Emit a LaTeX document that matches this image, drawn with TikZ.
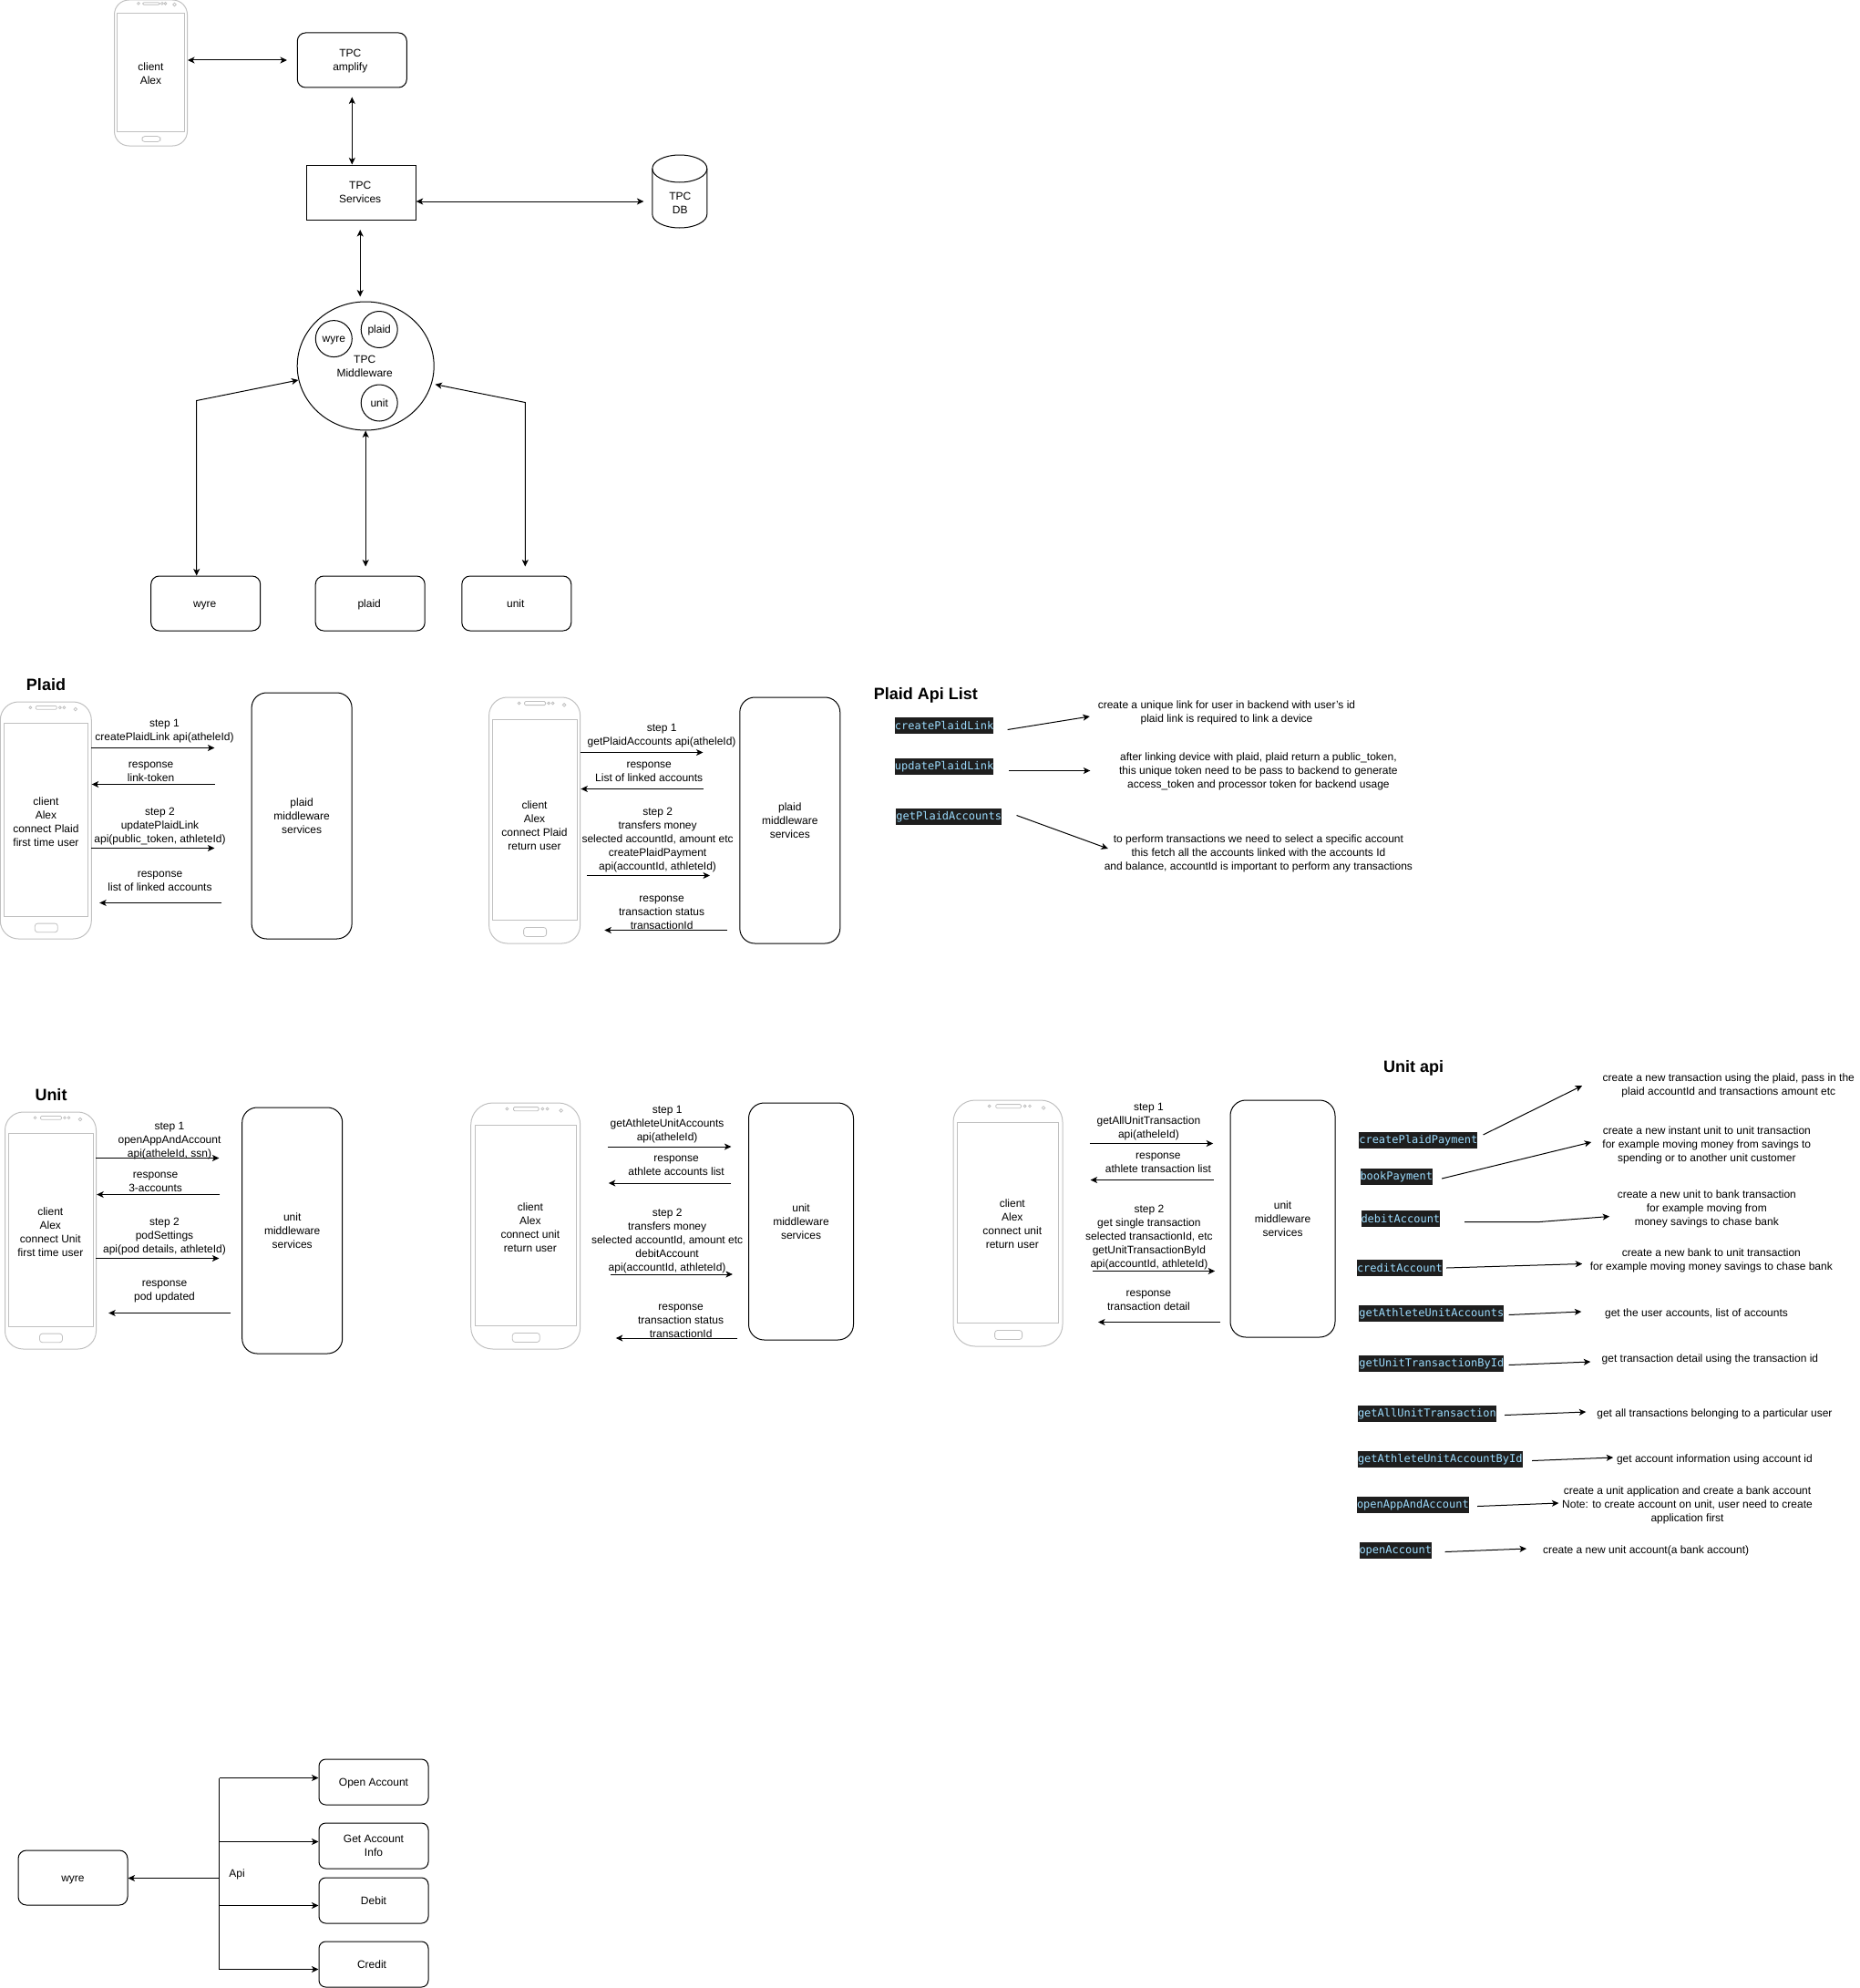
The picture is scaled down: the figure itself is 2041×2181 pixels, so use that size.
\documentclass[tikz,border=0pt]{standalone}
\usepackage{fontspec}
\setmainfont{Liberation Sans}
\newfontfamily\codefont{DejaVu Sans Mono}
\usetikzlibrary{arrows.meta,shapes.geometric}
\definecolor{codebg}{HTML}{1E1E1E}
\definecolor{codefg}{HTML}{9CDCFE}
\definecolor{phonegray}{HTML}{C0C0C0}

% phone outline: name, left, top, width, height
\newcommand{\phonecase}[5]{%
  \node[phonebody,minimum width=#4pt,minimum height=#5pt,rounded corners=#4*0.2pt] (#1) at (#2+#4/2,#3+#5/2) {};
  \begin{scope}[shift={(#2,#3)},x=#4pt,y=-#5pt,phonegray,line width=.8pt]
    \draw (.04,.09) rectangle (.965,.905);
    \draw[rounded corners=1.2pt] (.39,.017) rectangle (.62,.032);
    \draw[rounded corners=3pt] (.38,.935) rectangle (.63,.972);
    \foreach \dotx in {.33,.655,.70} \draw (\dotx,.024) circle [radius=1.4pt];
    \draw (.825,.031) circle [radius=1.8pt];
  \end{scope}}

\begin{document}
\begin{tikzpicture}
  [x=1pt,y=-1pt,line width=1pt,
   txt/.style={align=center,inner sep=0pt,font=\fontsize{12}{15}\selectfont},
   lbl/.style={txt,yshift=-1.2pt},
   one/.style={txt,text height=8.7pt,text depth=0pt},
   heading/.style={inner sep=0pt,font=\fontsize{18}{22}\selectfont\bfseries},
   phonebody/.style={rectangle,draw=phonegray,inner sep=0pt},
   square/.style={txt,rectangle,draw,minimum width=120pt,minimum height=60pt},
   roundbox/.style={square,rounded corners=9pt},
   smallbox/.style={roundbox,minimum height=50pt,rounded corners=7.5pt},
   backend/.style={txt,rectangle,draw,rounded corners=16.5pt},
   bubble/.style={one,circle,draw,minimum size=40pt},
   code/.style={rectangle,fill=codebg,text=codefg,inner xsep=0pt,inner ysep=0pt,
                minimum height=18pt,anchor=west,font=\fontsize{12}{15}\selectfont\codefont},
   arr/.style={-{Stealth[length=7.5pt,width=7pt,inset=2pt]}},
   biarr/.style={{Stealth[length=7.5pt,width=7pt,inset=2pt]}-{Stealth[length=7.5pt,width=7pt,inset=2pt]}}]
  \useasboundingbox (0,0) rectangle (2041,2181);

  % overview
  \phonecase{clientTop}{125.5}{0}{80}{160}
  \node[lbl] (clientTopText) at (165.5,80) {client\\Alex};
  \node[roundbox] (amplify)  at (386.3,66)  {};
  \node[lbl]      (amplifyText) at (384.3,66.3) {TPC\\amplify};
  \node[square]   (services) at (396.2,211) {};
  \node[lbl]      (servicesText) at (395.2,209.5) {TPC\\Services};
  \node[inner sep=0pt,minimum width=60pt,minimum height=80pt] (db) at (746.3,210.5) {};
  \draw (db.north west) ++(0,15) arc [start angle=180,end angle=0,x radius=30pt,y radius=15pt]
        -- ++(0,50) arc [start angle=0,end angle=-180,x radius=30pt,y radius=15pt] -- cycle;
  \draw (db.north west) ++(0,15) arc [start angle=180,end angle=360,x radius=30pt,y radius=15pt];
  \node[lbl] (dbText) at (746.3,222) {TPC\\DB};
  \node[txt,ellipse,draw,minimum width=150pt,minimum height=141pt] (middleware) at (401.2,401.5) {};
  \node[lbl] (middlewareText) at (400.2,400.8) {TPC\\Middleware};
  \node[bubble] (wyreIn)  at (366.3,371.6) {wyre};
  \node[bubble] (plaidIn) at (416.2,361.5) {plaid};
  \node[bubble] (unitIn)  at (416.2,442) {unit};
  \node[roundbox] (wyre)  at (225.7,662) {};
  \node[roundbox] (plaid) at (406.2,662) {};
  \node[roundbox] (unit)  at (566.8,662) {};
  \node[one] (wyreText)  at (224.7,662) {wyre};
  \node[one] (plaidText) at (405.2,662) {plaid};
  \node[one] (unitText)  at (565.8,662) {unit};

  \coordinate (amplifyIn) at (315,66);
  \draw[biarr] (clientTop.east |- amplifyIn) -- (amplifyIn);
  \coordinate (amplifyOut) at (386.3,106.5);
  \draw[biarr] (amplifyOut) -- (amplifyOut |- services.north);
  \coordinate (dbIn) at (706.4,221);
  \draw[biarr] (services.east |- dbIn) -- (dbIn);
  \coordinate (servicesOut) at (395.2,252);
  \coordinate (middlewareIn) at (395.2,325.5);
  \draw[biarr] (servicesOut) -- (middlewareIn);
  \coordinate (wyreKnee) at (215.7,439.5);
  \coordinate (wyreEnd)  at (327.4,417);
  \draw[biarr] (wyreKnee |- wyre.north) -- (wyreKnee) -- (wyreEnd);
  \coordinate (plaidEnd) at (401.2,621.5);
  \draw[biarr] (plaidEnd |- middleware.south) -- (plaidEnd);
  \coordinate (unitEnd)  at (576.3,621.5);
  \coordinate (unitKnee) at (576.3,441.5);
  \coordinate (unitTip)  at (477.5,421.7);
  \draw[biarr] (unitEnd) -- (unitKnee) -- (unitTip);

  % plaid, first time
  \node[heading] (plaidTitle) at (50.5,751) {Plaid};
  \phonecase{clientPlaidA}{0.3}{770}{100}{260}
  \node[lbl] (clientPlaidAText) at (50.5,900.5) {client\\Alex\\connect Plaid\\first time user};
  \node[backend,minimum width=110pt,minimum height=270pt] (plaidA) at (331.1,895) {plaid\\middleware\\services};
  \node[lbl] (pa1) at (180.5,800.5) {step 1\\createPlaidLink api(atheleId)};
  \node[lbl] (pa2) at (165.6,845.5) {response\\link-token};
  \node[lbl] (pa3) at (175.5,905.5) {step 2\\updatePlaidLink\\api(public\_token, athleteId)};
  \node[lbl] (pa4) at (175.5,965.5) {response\\list of linked accounts};
  \coordinate (pa1a) at (100.3,820.5); \coordinate (pa1b) at (235.4,820.5);
  \coordinate (pa2a) at (235.9,860.5); \coordinate (pa2b) at (100.7,860.5);
  \coordinate (pa3a) at (100.3,930.5); \coordinate (pa3b) at (235.4,930.5);
  \coordinate (pa4a) at (243.4,990.5); \coordinate (pa4b) at (109.2,990.5);
  \draw[arr] (pa1a) -- (pa1b);
  \draw[arr] (pa2a) -- (pa2b);
  \draw[arr] (pa3a) -- (pa3b);
  \draw[arr] (pa4a) -- (pa4b);

  % plaid, return user
  \phonecase{clientPlaidB}{536.6}{765}{100}{270}
  \node[lbl] (clientPlaidBText) at (586.5,905) {client\\Alex\\connect Plaid\\return user};
  \node[backend,minimum width=110pt,minimum height=270pt] (plaidB) at (866.8,900) {plaid\\middleware\\services};
  \node[lbl] (pb1) at (726.1,805.5) {step 1\\getPlaidAccounts api(atheleId)};
  \node[lbl] (pb2) at (712.2,845.5) {response\\List of linked accounts};
  \node[lbl] (pb3) at (721.6,920.5) {step 2\\transfers money\\selected accountId, amount etc\\createPlaidPayment\\api(accountId, athleteId)};
  \node[lbl] (pb4) at (726.1,1000.5) {response\\transaction status\\transactionId};
  \coordinate (pb1a) at (636.9,825.5); \coordinate (pb1b) at (771.5,825.5);
  \coordinate (pb2a) at (772,865.5);   \coordinate (pb2b) at (637.4,865.5);
  \coordinate (pb3a) at (644.3,960.5); \coordinate (pb3b) at (779,960.5);
  \coordinate (pb4a) at (797.5,1020.5); \coordinate (pb4b) at (663.3,1020.5);
  \draw[arr] (pb1a) -- (pb1b);
  \draw[arr] (pb2a) -- (pb2b);
  \draw[arr] (pb3a) -- (pb3b);
  \draw[arr] (pb4a) -- (pb4b);

  % plaid api list
  \node[heading] (plaidApiTitle) at (1015.8,763) {Plaid Api List};
  \node[code] (createPlaidLink)  at (981.4,796)  {createPlaidLink};
  \node[code] (updatePlaidLink)  at (981.4,841)  {updatePlaidLink};
  \node[code] (getPlaidAccounts) at (982.9,896)  {getPlaidAccounts};
  \node[lbl] (createPlaidLinkText)  at (1346,780.5) {create a unique link for user in backend with user's id\\plaid link is required to link a device};
  \node[lbl] (updatePlaidLinkText)  at (1380.9,845.5) {after linking device with plaid, plaid return a public\_token,\\this unique token need to be pass to backend to generate\\access\_token and processor token for backend usage};
  \node[lbl] (getPlaidAccountsText) at (1380.9,935.5) {to perform transactions we need to select a specific account\\this fetch all the accounts linked with the accounts Id\\and balance, accountId is important to perform any transactions};
  \coordinate (cplA) at (1105.6,800.5); \coordinate (cplB) at (1195.8,786);
  \coordinate (uplA) at (1107.1,845.5); \coordinate (uplB) at (1196.3,845.5);
  \coordinate (gpaA) at (1115.5,894.5); \coordinate (gpaB) at (1215.8,931);
  \draw[arr] (cplA) -- (cplB);
  \draw[arr] (uplA) -- (uplB);
  \draw[arr] (gpaA) -- (gpaB);

  % unit, first time
  \node[heading] (unitTitle) at (56,1201) {Unit};
  \phonecase{clientUnitA}{5.5}{1220}{100}{260}
  \node[lbl] (clientUnitAText) at (55.3,1350.5) {client\\Alex\\connect Unit\\first time user};
  \node[backend,minimum width=110pt,minimum height=270pt] (unitA) at (320.7,1350) {unit\\middleware\\services};
  \node[lbl] (ua1) at (186,1250.5) {step 1\\openAppAndAccount\\api(atheleId, ssn)};
  \node[lbl] (ua2) at (170.6,1295.5) {response\\3-accounts};
  \node[lbl] (ua3) at (180.5,1355.5) {step 2\\podSettings\\api(pod details, athleteId)};
  \node[lbl] (ua4) at (180.5,1415.5) {response\\pod updated};
  \coordinate (ua1a) at (105.2,1270.5); \coordinate (ua1b) at (240.4,1270.5);
  \coordinate (ua2a) at (241.4,1310.5); \coordinate (ua2b) at (106.2,1310.5);
  \coordinate (ua3a) at (105.2,1380.5); \coordinate (ua3b) at (240.4,1380.5);
  \coordinate (ua4a) at (253.3,1440.5); \coordinate (ua4b) at (119.2,1440.5);
  \draw[arr] (ua1a) -- (ua1b);
  \draw[arr] (ua2a) -- (ua2b);
  \draw[arr] (ua3a) -- (ua3b);
  \draw[arr] (ua4a) -- (ua4b);

  % unit, return user
  \phonecase{clientUnitB}{516.7}{1210}{120}{270}
  \node[lbl] (clientUnitBText) at (581.9,1345.3) {client\\Alex\\connect unit\\return user};
  \node[backend,minimum width=115pt,minimum height=260pt,rounded corners=17pt] (unitB) at (879,1340) {unit\\middleware\\services};
  \node[lbl] (ub1) at (732.1,1232.5) {step 1\\getAthleteUnitAccounts\\api(atheleId)};
  \node[lbl] (ub2) at (742.1,1277.5) {response\\athlete accounts list};
  \node[lbl] (ub3) at (732.1,1360.5) {step 2\\transfers money\\selected accountId, amount etc\\debitAccount\\api(accountId, athleteId)};
  \node[lbl] (ub4) at (747.1,1448.5) {response\\transaction status\\transactionId};
  \coordinate (ub1a) at (666.8,1258); \coordinate (ub1b) at (802.4,1258);
  \coordinate (ub2a) at (802.4,1298); \coordinate (ub2b) at (667.8,1298);
  \coordinate (ub3a) at (669.8,1398); \coordinate (ub3b) at (803.9,1398);
  \coordinate (ub4a) at (809.4,1468); \coordinate (ub4b) at (675.8,1468);
  \draw[arr] (ub1a) -- (ub1b);
  \draw[arr] (ub2a) -- (ub2b);
  \draw[arr] (ub3a) -- (ub3b);
  \draw[arr] (ub4a) -- (ub4b);

  % unit, transactions
  \phonecase{clientUnitC}{1046}{1207}{120}{270}
  \node[lbl] (clientUnitCText) at (1110.8,1341.5) {client\\Alex\\connect unit\\return user};
  \node[backend,minimum width=115pt,minimum height=260pt,rounded corners=17pt] (unitC) at (1407.5,1337) {unit\\middleware\\services};
  \node[lbl] (uc1) at (1260.4,1229.5) {step 1\\getAllUnitTransaction\\api(atheleId)};
  \node[lbl] (uc2) at (1270.9,1274.5) {response\\athlete transaction list};
  \node[lbl] (uc3) at (1260.9,1356.5) {step 2\\get single transaction\\selected transactionId, etc\\getUnitTransactionById\\api(accountId, athleteId)};
  \node[lbl] (uc4) at (1260.4,1425.5) {response\\transaction detail};
  \coordinate (uc1a) at (1195.6,1254.5); \coordinate (uc1b) at (1331.2,1254.5);
  \coordinate (uc2a) at (1331.7,1294.5); \coordinate (uc2b) at (1196.6,1294.5);
  \coordinate (uc3a) at (1198.6,1394.5); \coordinate (uc3b) at (1333.2,1394.5);
  \coordinate (uc4a) at (1339.2,1450.5); \coordinate (uc4b) at (1205,1450.5);
  \draw[arr] (uc1a) -- (uc1b);
  \draw[arr] (uc2a) -- (uc2b);
  \draw[arr] (uc3a) -- (uc3b);
  \draw[arr] (uc4a) -- (uc4b);

  % unit api list
  \node[heading] (unitApiTitle) at (1551,1172) {Unit api};
  \node[code] (createPlaidPayment) at (1490.8,1251) {createPlaidPayment};
  \node[code] (bookPayment)        at (1492,1291)   {bookPayment};
  \node[code] (debitAccount)       at (1493,1337)   {debitAccount};
  \node[code] (creditAccount)      at (1488.5,1391) {creditAccount};
  \node[code] (getAthleteUnitAccounts)    at (1490.8,1441) {getAthleteUnitAccounts};
  \node[code] (getUnitTransactionById)    at (1490.8,1496) {getUnitTransactionById};
  \node[code] (getAllUnitTransaction)     at (1489.5,1551) {getAllUnitTransaction};
  \node[code] (getAthleteUnitAccountById) at (1489.5,1601) {getAthleteUnitAccountById};
  \node[code] (openAppAndAccount)         at (1488.5,1651) {openAppAndAccount};
  \node[code] (openAccount)               at (1491,1701)   {openAccount};

  \node[lbl] (cppText) at (1896.8,1189.5) {create a new transaction using the plaid, pass in the\\plaid accountId and transactions amount etc};
  \node[lbl] (bpText)  at (1872.8,1255.5) {create a new instant unit to unit transaction\\for example moving money from savings to\\spending or to another unit customer};
  \node[lbl] (daText)  at (1872.8,1325.5) {create a new unit to bank transaction\\for example moving from\\money savings to chase bank};
  \node[lbl] (caText)  at (1877.8,1381.5) {create a new bank to unit transaction\\for example moving money savings to chase bank};
  \node[one] (gauaText)  at (1861.5,1440.5) {get the user accounts, list of accounts};
  \node[one] (gutbiText) at (1876.4,1490.5) {get transaction detail using the transaction id};
  \node[one] (gautText)  at (1881.4,1550.5) {get all transactions belonging to a particular user};
  \node[one] (gaubiText) at (1881.4,1600.5) {get account information using account id};
  \node[lbl] (oaaaText)  at (1851.5,1650.5) {create a unit application and create a bank account\\Note: to create account on unit, user need to create\\application first};
  \node[one] (oaText)    at (1806.1,1700.5) {create a new unit account(a bank account)};

  \coordinate (cppA) at (1627.5,1245);   \coordinate (cppB) at (1736.2,1191);
  \coordinate (bpA)  at (1582.1,1293);   \coordinate (bpB)  at (1746.2,1253);
  \coordinate (daA)  at (1607,1340.5);   \coordinate (daK)  at (1689.3,1340.5); \coordinate (daB) at (1766.1,1334.5);
  \coordinate (caA)  at (1587.1,1391);   \coordinate (caB)  at (1736.2,1386.5);
  \coordinate (gauaA) at (1655.5,1442.5); \coordinate (gauaB) at (1735.3,1439);
  \coordinate (gutbiA) at (1655.5,1497.5); \coordinate (gutbiB) at (1745.3,1494);
  \coordinate (gautA) at (1651,1552.5);  \coordinate (gautB) at (1740.3,1549);
  \coordinate (gaubiA) at (1681,1602.5); \coordinate (gaubiB) at (1770.2,1599);
  \coordinate (oaaaA) at (1621.1,1652.5); \coordinate (oaaaB) at (1710.4,1649);
  \coordinate (oaA) at (1585.7,1702.5);  \coordinate (oaB) at (1675,1699);
  \draw[arr] (cppA) -- (cppB);
  \draw[arr] (bpA) -- (bpB);
  \draw[arr] (daA) -- (daK) -- (daB);
  \draw[arr] (caA) -- (caB);
  \draw[arr] (gauaA) -- (gauaB);
  \draw[arr] (gutbiA) -- (gutbiB);
  \draw[arr] (gautA) -- (gautB);
  \draw[arr] (gaubiA) -- (gaubiB);
  \draw[arr] (oaaaA) -- (oaaaB);
  \draw[arr] (oaA) -- (oaB);

  % wyre api
  \node[roundbox,text depth=0pt,text height=8.7pt] (wyreApi) at (80,2060) {wyre};
  \node[smallbox,text depth=0pt,text height=8.7pt] (openBox) at (410,1955) {Open Account};
  \node[smallbox] (getInfoBox)  at (410,2025)   {Get Account\\Info};
  \node[smallbox,text depth=0pt,text height=8.7pt] (debitBox) at (410,2085) {Debit};
  \node[smallbox] (creditBox)   at (410,2155)   {};
  \node[one]      (creditText)  at (408,2155)   {Credit};
  \coordinate (spineTop)   at (240.5,1950.5);
  \coordinate (spineInfo)  at (240.5,2020.5);
  \coordinate (spineMid)   at (240.5,2060.5);
  \coordinate (spineDebit) at (240.5,2090.5);
  \coordinate (spineBot)   at (240.5,2160.5);
  \node[one] (apiText) at (260,2055) {Api};
  \draw (spineTop) -- (spineBot);
  \draw[arr] (spineMid) -- (spineMid -| wyreApi.east);
  \draw[arr] (spineTop) -- (spineTop -| openBox.west);
  \draw[arr] (spineInfo) -- (spineInfo -| getInfoBox.west);
  \draw[arr] (spineDebit) -- (spineDebit -| debitBox.west);
  \draw[arr] (spineBot) -- (spineBot -| creditBox.west);
\end{tikzpicture}
\end{document}
